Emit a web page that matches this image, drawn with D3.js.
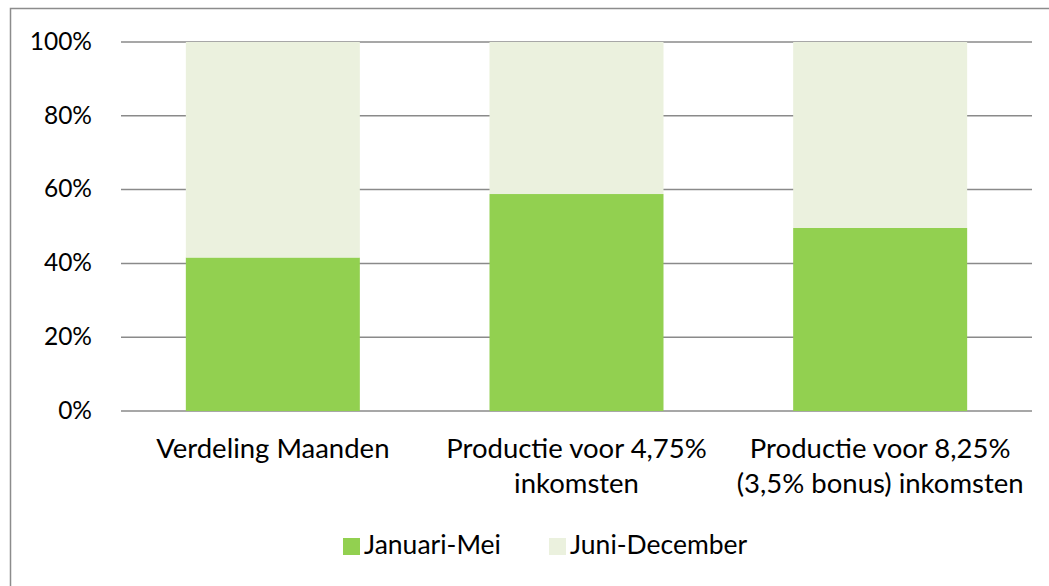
<!DOCTYPE html>
<html>
<head>
<meta charset="utf-8">
<script src="https://cdn.jsdelivr.net/npm/d3@7"></script>
<style>
  body { margin: 0; background: #fff; }
  text { font-family: Lato, "Open Sans", sans-serif; fill: #000; }
</style>
</head>
<body>
<div id="chart-container"></div>
<script>
// categorieën en waarden (aandeel in %)
const categories = [
  ["Verdeling Maanden"],
  ["Productie voor 4,75%", "inkomsten"],
  ["Productie voor 8,25%", "(3,5% bonus) inkomsten"]
];
const seriesNames = ["Januari-Mei", "Juni-December"];
const januariMei = [41.6, 58.8, 49.6];
const juniDecember = [58.4, 41.2, 50.4];
const yTicks = [0, 20, 40, 60, 80, 100];
const colors = ["#92d050", "#ebf1de"];

const width = 1049, height = 586;
const marginTop = 42, marginRight = 17, marginBottom = 175, marginLeft = 121;

const svg = d3.select("#chart-container")
  .append("svg")
  .attr("width", width)
  .attr("height", height);

// buitenrand
svg.append("rect")
  .attr("x", 10.5).attr("y", 8.5)
  .attr("width", width + 20).attr("height", height + 20)
  .attr("fill", "none")
  .attr("stroke", "#8c8c8c")
  .attr("stroke-width", 1.5);

const xScale = d3.scaleBand()
  .domain(d3.range(categories.length))
  .range([marginLeft, width - marginRight])
  .paddingInner(0.427)
  .paddingOuter(0.2135);

const yScale = d3.scaleLinear()
  .domain([0, 100])
  .range([height - marginBottom, marginTop]);

// rasterlijnen
svg.append("g")
  .selectAll("line")
  .data(yTicks)
  .join("line")
  .attr("x1", marginLeft)
  .attr("x2", width - marginRight)
  .attr("y1", (d) => yScale(d))
  .attr("y2", (d) => yScale(d))
  .attr("stroke", "#8a8a8a")
  .attr("stroke-width", 1.5);

// gestapelde data
const rows = januariMei.map((v, i) => ({ i, jm: v, jd: juniDecember[i] }));
const stack = d3.stack().keys(["jm", "jd"])(rows);

svg.append("g")
  .selectAll("g")
  .data(stack)
  .join("g")
  .attr("fill", (d, k) => colors[k])
  .selectAll("rect")
  .data((d) => d)
  .join("rect")
  .attr("x", (d) => xScale(d.data.i))
  .attr("width", xScale.bandwidth())
  .attr("y", (d) => yScale(d[1]))
  .attr("height", (d) => yScale(d[0]) - yScale(d[1]));

// Y-as labels
const yAxisG = svg.append("g")
  .attr("transform", `translate(${marginLeft - 29}, 0)`)
  .call(d3.axisLeft(yScale).tickValues(yTicks).tickFormat((d) => d + "%").tickSize(0));
yAxisG.select(".domain").remove();
yAxisG.selectAll("text")
  .attr("x", 0)
  .attr("dy", "0.3em")
  .style("font-size", "24.5px")
  .style("font-family", "Lato, sans-serif")
  .attr("fill", "#000");

// categorie labels
const catG = svg.append("g")
  .selectAll("text")
  .data(categories)
  .join("text")
  .attr("x", (d, i) => xScale(i) + xScale.bandwidth() / 2)
  .attr("y", 458)
  .attr("text-anchor", "middle")
  .style("font-size", "27.5px");
catG.selectAll("tspan")
  .data((d) => d)
  .join("tspan")
  .attr("x", function () { return d3.select(this.parentNode).attr("x"); })
  .attr("dy", (d, j) => (j === 0 ? 0 : 35))
  .text((d) => d);

// legenda
const legendX = [343, 549];
const legend = svg.append("g")
  .selectAll("g")
  .data(seriesNames)
  .join("g")
  .attr("transform", (d, i) => `translate(${legendX[i]}, 546)`);
legend.append("rect")
  .attr("x", 0).attr("y", -8)
  .attr("width", 17).attr("height", 17)
  .attr("fill", (d, i) => colors[i]);
legend.append("text")
  .attr("x", 21)
  .attr("y", 8)
  .style("font-size", "26.5px")
  .text((d) => d);
</script>
</body>
</html>
